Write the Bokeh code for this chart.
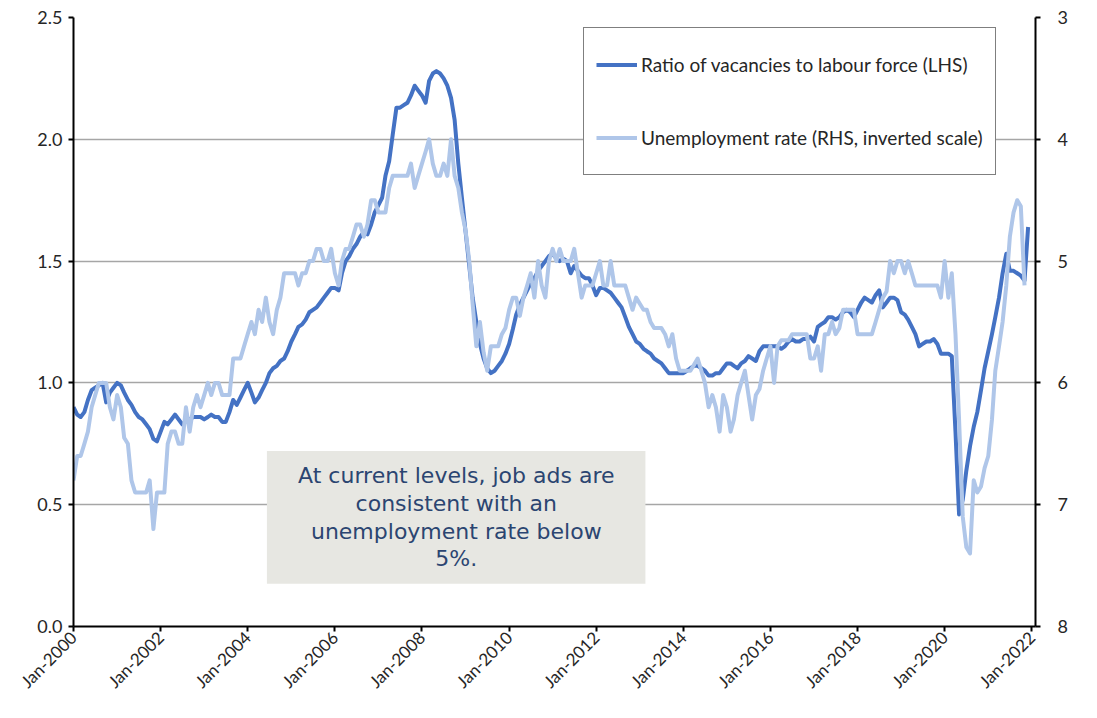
import pandas as pd
from bokeh.plotting import figure
from bokeh.models import (Range1d, LinearAxis, FixedTicker, DatetimeTickFormatter, Legend,
                          LegendItem, BoxAnnotation, Label, NumeralTickFormatter)
from bokeh.embed import file_html
from bokeh.resources import INLINE

# Ratio of vacancies to labour force (LHS), monthly from Jan-2000
vac_2000 = [0.90, 0.87, 0.86, 0.88, 0.93, 0.97, 0.98, 0.99, 1.00, 0.92, 0.96, 0.98]
vac_2001 = [1.00, 0.99, 0.96, 0.93, 0.91, 0.88, 0.86, 0.85, 0.83, 0.81, 0.77, 0.76]
vac_2002 = [0.80, 0.84, 0.83, 0.85, 0.87, 0.85, 0.83, 0.84, 0.85, 0.86, 0.86, 0.86]
vac_2003 = [0.85, 0.86, 0.87, 0.86, 0.86, 0.84, 0.84, 0.88, 0.93, 0.91, 0.94, 0.97]
vac_2004 = [1.00, 0.96, 0.92, 0.94, 0.97, 1.00, 1.04, 1.06, 1.07, 1.09, 1.10, 1.13]
vac_2005 = [1.17, 1.20, 1.23, 1.24, 1.26, 1.29, 1.30, 1.31, 1.33, 1.35, 1.37, 1.39]
vac_2006 = [1.39, 1.38, 1.45, 1.50, 1.52, 1.55, 1.57, 1.60, 1.62, 1.61, 1.65, 1.70]
vac_2007 = [1.73, 1.76, 1.85, 1.91, 2.02, 2.13, 2.13, 2.14, 2.15, 2.18, 2.22, 2.20]
vac_2008 = [2.18, 2.15, 2.24, 2.27, 2.28, 2.27, 2.25, 2.22, 2.17, 2.08, 1.90, 1.76]
vac_2009 = [1.62, 1.48, 1.35, 1.25, 1.16, 1.10, 1.06, 1.04, 1.05, 1.07, 1.09, 1.12]
vac_2010 = [1.16, 1.22, 1.28, 1.32, 1.35, 1.38, 1.41, 1.43, 1.46, 1.48, 1.50, 1.52]
vac_2011 = [1.53, 1.51, 1.50, 1.51, 1.50, 1.45, 1.48, 1.46, 1.44, 1.43, 1.43, 1.40]
vac_2012 = [1.36, 1.39, 1.39, 1.38, 1.37, 1.35, 1.33, 1.31, 1.27, 1.23, 1.20, 1.17]
vac_2013 = [1.16, 1.14, 1.13, 1.12, 1.10, 1.09, 1.08, 1.06, 1.04, 1.04, 1.04, 1.04]
vac_2014 = [1.04, 1.05, 1.06, 1.07, 1.07, 1.06, 1.05, 1.03, 1.03, 1.04, 1.04, 1.06]
vac_2015 = [1.08, 1.08, 1.07, 1.06, 1.08, 1.09, 1.11, 1.10, 1.09, 1.13, 1.15, 1.15]
vac_2016 = [1.15, 1.15, 1.15, 1.14, 1.15, 1.17, 1.18, 1.17, 1.17, 1.18, 1.18, 1.19]
vac_2017 = [1.17, 1.23, 1.24, 1.25, 1.27, 1.27, 1.26, 1.27, 1.29, 1.30, 1.29, 1.27]
vac_2018 = [1.30, 1.33, 1.35, 1.34, 1.33, 1.36, 1.38, 1.31, 1.33, 1.35, 1.35, 1.34]
vac_2019 = [1.29, 1.28, 1.26, 1.23, 1.20, 1.15, 1.16, 1.17, 1.17, 1.18, 1.16, 1.12]
vac_2020 = [1.12, 1.12, 1.11, 0.80, 0.46, 0.52, 0.64, 0.74, 0.82, 0.88, 0.97, 1.06]
vac_2021 = [1.13, 1.20, 1.27, 1.35, 1.45, 1.53, 1.46, 1.46, 1.45, 1.44, 1.42, 1.64]

# Unemployment rate, % (RHS, inverted), monthly from Jan-2000
un_2000 = [6.8, 6.6, 6.6, 6.5, 6.4, 6.2, 6.1, 6.0, 6.0, 6.0, 6.2, 6.3]
un_2001 = [6.1, 6.2, 6.45, 6.5, 6.8, 6.9, 6.9, 6.9, 6.9, 6.8, 7.2, 6.9]
un_2002 = [6.9, 6.9, 6.5, 6.4, 6.4, 6.5, 6.5, 6.2, 6.4, 6.2, 6.1, 6.2]
un_2003 = [6.1, 6.0, 6.1, 6.0, 6.0, 6.1, 6.1, 6.1, 5.8, 5.8, 5.8, 5.7]
un_2004 = [5.6, 5.5, 5.6, 5.4, 5.5, 5.3, 5.5, 5.6, 5.4, 5.3, 5.1, 5.1]
un_2005 = [5.1, 5.1, 5.2, 5.1, 5.1, 5.0, 5.0, 4.9, 4.9, 5.0, 5.0, 4.9]
un_2006 = [5.1, 5.2, 5.0, 4.9, 4.9, 4.8, 4.7, 4.7, 4.8, 4.7, 4.5, 4.5]
un_2007 = [4.6, 4.6, 4.6, 4.4, 4.3, 4.3, 4.3, 4.3, 4.3, 4.2, 4.4, 4.3]
un_2008 = [4.2, 4.1, 4.0, 4.2, 4.3, 4.3, 4.2, 4.3, 4.0, 4.3, 4.4, 4.6]
un_2009 = [4.75, 5.0, 5.35, 5.7, 5.5, 5.75, 5.9, 5.7, 5.7, 5.7, 5.6, 5.55]
un_2010 = [5.4, 5.3, 5.3, 5.45, 5.3, 5.2, 5.1, 5.3, 5.0, 5.2, 5.3, 5.0]
un_2011 = [4.9, 5.0, 4.9, 5.0, 5.0, 5.0, 4.9, 5.1, 5.3, 5.2, 5.2, 5.2]
un_2012 = [5.1, 5.0, 5.2, 5.2, 5.0, 5.2, 5.2, 5.2, 5.2, 5.3, 5.4, 5.3]
un_2013 = [5.35, 5.4, 5.4, 5.5, 5.55, 5.55, 5.55, 5.6, 5.7, 5.6, 5.8, 5.9]
un_2014 = [5.9, 5.9, 5.9, 5.85, 5.8, 5.9, 6.0, 6.2, 6.1, 6.2, 6.4, 6.1]
un_2015 = [6.2, 6.4, 6.3, 6.1, 6.0, 5.9, 6.1, 6.3, 6.1, 6.05, 5.9, 5.8]
un_2016 = [5.7, 6.0, 5.7, 5.65, 5.65, 5.65, 5.6, 5.6, 5.6, 5.6, 5.6, 5.8]
un_2017 = [5.8, 5.7, 5.9, 5.6, 5.6, 5.5, 5.6, 5.55, 5.4, 5.4, 5.4, 5.4]
un_2018 = [5.6, 5.6, 5.6, 5.6, 5.6, 5.5, 5.4, 5.3, 5.25, 5.0, 5.1, 5.0]
un_2019 = [5.0, 5.1, 5.0, 5.1, 5.2, 5.2, 5.2, 5.2, 5.2, 5.2, 5.2, 5.3]
un_2020 = [5.0, 5.3, 5.1, 5.6, 6.3, 7.1, 7.35, 7.4, 6.8, 6.9, 6.85, 6.7]
un_2021 = [6.6, 6.3, 5.9, 5.7, 5.5, 5.2, 4.8, 4.6, 4.5, 4.55, 5.2]

x_tick_years = list(range(2000, 2023, 2))
lhs_ticks = [0.0, 0.5, 1.0, 1.5, 2.0, 2.5]
rhs_ticks = [3, 4, 5, 6, 7, 8]
legend_labels = ["Ratio of vacancies to labour force (LHS)",
                 "Unemployment rate (RHS, inverted scale)"]
note_text = "At current levels, job ads are\nconsistent with an\nunemployment rate below\n5%."

vac = (vac_2000 + vac_2001 + vac_2002 + vac_2003 + vac_2004 + vac_2005 + vac_2006 + vac_2007 +
       vac_2008 + vac_2009 + vac_2010 + vac_2011 + vac_2012 + vac_2013 + vac_2014 + vac_2015 +
       vac_2016 + vac_2017 + vac_2018 + vac_2019 + vac_2020 + vac_2021)
unemp = (un_2000 + un_2001 + un_2002 + un_2003 + un_2004 + un_2005 + un_2006 + un_2007 +
         un_2008 + un_2009 + un_2010 + un_2011 + un_2012 + un_2013 + un_2014 + un_2015 +
         un_2016 + un_2017 + un_2018 + un_2019 + un_2020 + un_2021)
dates_v = pd.date_range("2000-01-01", periods=len(vac), freq="MS")
dates_u = pd.date_range("2000-01-01", periods=len(unemp), freq="MS")


def ms(s):
    return pd.Timestamp(s).value / 1e6


FONT = "Lato"
TXT = "#262626"

p = figure(width=1080, height=702, x_axis_type="datetime", output_backend="svg",
           toolbar_location=None,
           x_range=Range1d(ms("2000-01-01"), ms("2022-02-01")), y_range=Range1d(0, 2.5),
           min_border_left=73, min_border_right=45, min_border_top=17, min_border_bottom=74)
p.outline_line_color = None
p.background_fill_color = "white"
p.border_fill_color = "white"
p.extra_y_ranges = {"rhs": Range1d(8, 3)}

# x axis
xa = p.xaxis[0]
xa.ticker = FixedTicker(ticks=[ms(f"{y}-01-01") for y in x_tick_years])
xa.formatter = DatetimeTickFormatter(years="%b-%Y", months="%b-%Y", days="%b-%Y",
                                     hours="%b-%Y", minutes="%b-%Y", seconds="%b-%Y",
                                     milliseconds="%b-%Y", microseconds="%b-%Y", context=None)
xa.major_label_orientation = 0.785398

# left axis
ya = p.yaxis[0]
ya.ticker = FixedTicker(ticks=lhs_ticks)
ya.formatter = NumeralTickFormatter(format="0.0")

# right axis
ra = LinearAxis(y_range_name="rhs", ticker=FixedTicker(ticks=rhs_ticks))
p.add_layout(ra, "right")

for ax in (xa, ya, ra):
    ax.axis_line_color = "black"
    ax.axis_line_width = 2
    ax.major_tick_line_color = "black"
    ax.major_tick_line_width = 2
    ax.major_tick_in = 0
    ax.major_tick_out = 5
    ax.minor_tick_line_color = None
    ax.major_label_text_font = FONT
    ax.major_label_text_font_size = "18px"
    ax.major_label_text_color = TXT
xa.major_label_text_font_size = "17px"
xa.major_label_standoff = 3
ya.major_label_standoff = 6
ra.major_label_standoff = 17

p.xgrid.visible = False
p.ygrid.ticker = FixedTicker(ticks=lhs_ticks)
p.ygrid.grid_line_color = "#A6A6A6"
p.ygrid.grid_line_width = 1.5

r1 = p.line(dates_v, vac, line_color="#4472C4", line_width=4, line_join="round")
r2 = p.line(dates_u, unemp, y_range_name="rhs", line_color="#AFC6E9", line_width=4,
            line_join="round")

legend = Legend(items=[LegendItem(label=legend_labels[0], renderers=[r1]),
                       LegendItem(label=legend_labels[1], renderers=[r2])],
                location=(510, 451), orientation="vertical",
                border_line_color="black", border_line_width=1.5,
                background_fill_color="white", background_fill_alpha=1.0,
                label_text_font=FONT, label_text_font_size="19px", label_text_color=TXT,
                glyph_width=41, glyph_height=49, label_height=49, spacing=24,
                padding=12, label_standoff=4, margin=0)
p.add_layout(legend)

box = BoxAnnotation(left=ms("2004-06-10"), right=ms("2013-02-17"), bottom=0.176, top=0.72,
                    fill_color="#E7E7E2", fill_alpha=1.0, line_color=None)
p.add_layout(box)

note = Label(x=ms("2008-10-15"), y=0.448, text=note_text, text_align="center",
             text_baseline="middle", text_font="DejaVu Sans", text_font_size="22px",
             text_color="#2B4571", text_line_height=1.11)
p.add_layout(note)

open("out.html", "w").write(file_html(p, INLINE))
